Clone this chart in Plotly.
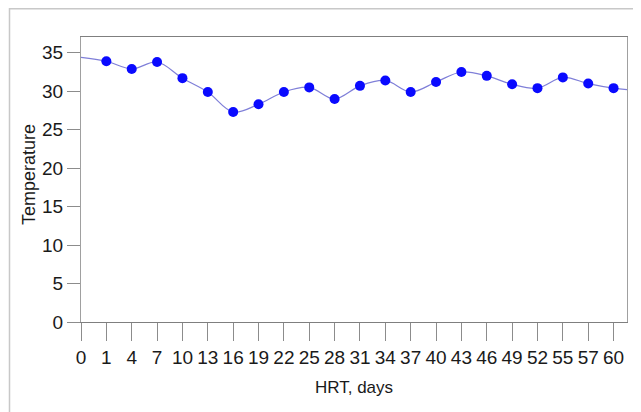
import plotly.graph_objects as go

# Data
hrt_days = ["0", "1", "4", "7", "10", "13", "16", "19", "22", "25", "28",
            "31", "34", "37", "40", "43", "46", "49", "52", "55", "57", "60"]
temperature = [34.4, 33.9, 32.9, 33.8, 31.7, 29.9, 27.3, 28.3, 29.9, 30.5, 29.0,
               30.7, 31.4, 29.9, 31.2, 32.5, 32.0, 30.9, 30.4, 31.8, 31.0, 30.4]
curve_tail_value = 30.2   # where the smoothed curve leaves the plot on the right
y_ticks = [0, 5, 10, 15, 20, 25, 30, 35]

positions = list(range(len(hrt_days)))
x_max = len(hrt_days) - 1 + 0.53

FONT = "Liberation Sans, Arial, sans-serif"

# the page body adds an 8 px offset, so the figure is sized/margined to compensate
W, H = 633, 404
L, R, T, B = 73, 14, 29, 90
pw, ph = W - L - R, H - T - B

fig = go.Figure()

# smoothed curve (includes the tail running to the right edge)
fig.add_trace(go.Scatter(
    x=positions + [x_max], y=temperature + [curve_tail_value],
    mode="lines", line=dict(color="#7f7fd8", width=1.2, shape="spline", smoothing=1.0),
    hoverinfo="skip", showlegend=False,
))
# markers (day 0 carries no marker in the reference)
fig.add_trace(go.Scatter(
    x=positions[1:], y=temperature[1:], mode="markers",
    marker=dict(color="#0a0aff", size=10, line=dict(width=0)),
    showlegend=False,
))

fig.update_layout(
    width=W, height=H,
    margin=dict(l=L, r=R, t=T, b=B),
    paper_bgcolor="white", plot_bgcolor="white",
    xaxis=dict(
        range=[0, x_max], tickmode="array", tickvals=positions, ticktext=hrt_days,
        ticks="outside", ticklen=18, tickcolor="#8c8c8c", tickwidth=1,
        showline=True, linecolor="#7f7f7f", linewidth=1, mirror=True,
        showgrid=False, zeroline=False, tickangle=0, automargin=False,
        tickfont=dict(family=FONT, size=19, color="#1a1a1a"),
        title=dict(text="HRT, days", font=dict(family=FONT, size=17, color="#1a1a1a"), standoff=14),
    ),
    yaxis=dict(
        range=[0, 37.05], tickmode="array", tickvals=y_ticks,
        ticks="outside", ticklen=13, tickcolor="#8c8c8c", tickwidth=1,
        showline=True, linecolor="#a0a0a0", linewidth=1, mirror=True,
        showgrid=False, zeroline=False, automargin=False,
        tickfont=dict(family=FONT, size=19, color="#1a1a1a"),
    ),
    annotations=[dict(
        text="Temperature", textangle=-90, showarrow=False,
        xref="paper", yref="paper",
        x=(29 - 8 - L) / pw, y=1 - (175 - 8 - T) / ph,
        xanchor="center", yanchor="middle",
        font=dict(family=FONT, size=18, color="#1a1a1a"),
    )],
    shapes=[dict(type="rect", xref="paper", yref="paper",
                 x0=(1.5 - L) / pw, x1=(W + 20 - L) / pw,
                 y0=-(B + 20) / ph, y1=1 + (T - 0.8) / ph,
                 line=dict(color="#c8c8c8", width=1.5), layer="below")],
)

fig.write_html("out.html")
